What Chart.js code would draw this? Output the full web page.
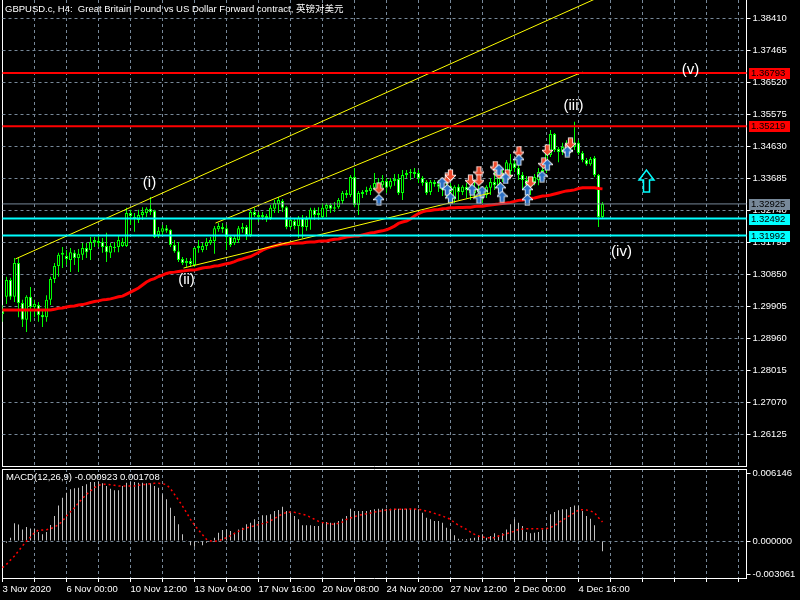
<!DOCTYPE html>
<html>
<head>
<meta charset="utf-8">
<script src="https://cdn.jsdelivr.net/npm/chart.js@4.4.1/dist/chart.umd.min.js"></script>
<style>
  html, body { margin: 0; padding: 0; background: #000; }
  #wrap { position: relative; width: 800px; height: 600px; background: #000; overflow: hidden; }
  #main { position: absolute; left: 0; top: 0; }
  #macd { position: absolute; left: 0; top: 467px; }
</style>
</head>
<body>
<div id="wrap">
  <canvas id="main" width="800" height="467"></canvas>
  <canvas id="macd" width="800" height="133"></canvas>
</div>
<script>
// ---- data ----
const priceTicks = [1.38410, 1.37465, 1.36520, 1.35575, 1.34630, 1.33685, 1.32740,
  1.31795, 1.30850, 1.29905, 1.28960, 1.28015, 1.27070, 1.26125];
const macdTicks = [0.006146, 0.0, -0.003061];

const timeTickIdx = [0, 16, 32, 48, 64, 80, 96, 112, 128, 144];
const timeTickText = ["3 Nov 2020", "6 Nov 00:00", "10 Nov 12:00", "13 Nov 04:00", "17 Nov 16:00",
  "20 Nov 08:00", "24 Nov 20:00", "27 Nov 12:00", "2 Dec 00:00", "4 Dec 16:00"];

const opens = [
  1.2979, 1.3018, 1.3068, 1.3018, 1.3118, 1.3000, 1.2950, 1.3018, 1.2988, 1.2994,
  1.2964, 1.2958, 1.3009, 1.3071, 1.3109, 1.3142, 1.3139, 1.3127, 1.3148, 1.3133,
  1.3142, 1.3162, 1.3156, 1.3180, 1.3183, 1.3180, 1.3168, 1.3148, 1.3165, 1.3165,
  1.3168, 1.3168, 1.3266, 1.3254, 1.3245, 1.3260, 1.3266, 1.3278, 1.3272, 1.3201,
  1.3210, 1.3221, 1.3216, 1.3171, 1.3153, 1.3130, 1.3118, 1.3124, 1.3112, 1.3162,
  1.3156, 1.3168, 1.3177, 1.3183, 1.3218, 1.3224, 1.3221, 1.3195, 1.3177, 1.3186,
  1.3218, 1.3224, 1.3201, 1.3269, 1.3260, 1.3254, 1.3257, 1.3251, 1.3278, 1.3292,
  1.3301, 1.3283, 1.3224, 1.3242, 1.3227, 1.3251, 1.3224, 1.3248, 1.3275, 1.3260,
  1.3254, 1.3278, 1.3289, 1.3278, 1.3283, 1.3301, 1.3325, 1.3319, 1.3372, 1.3289,
  1.3322, 1.3328, 1.3331, 1.3340, 1.3354, 1.3348, 1.3360, 1.3343, 1.3360, 1.3366,
  1.3325, 1.3378, 1.3384, 1.3387, 1.3384, 1.3369, 1.3357, 1.3328, 1.3357, 1.3351,
  1.3343, 1.3334, 1.3346, 1.3307, 1.3343, 1.3328, 1.3343, 1.3334, 1.3325, 1.3337,
  1.3328, 1.3319, 1.3340, 1.3357, 1.3348, 1.3369, 1.3384, 1.3390, 1.3413, 1.3399,
  1.3378, 1.3363, 1.3348, 1.3357, 1.3363, 1.3387, 1.3393, 1.3437, 1.3499, 1.3455,
  1.3446, 1.3461, 1.3470, 1.3461, 1.3473, 1.3443, 1.3422, 1.3410, 1.3428, 1.3378,
  1.3254];
const closes = [
  1.2967, 1.3068, 1.3018, 1.3118, 1.3000, 1.2950, 1.3018, 1.2988, 1.2997, 1.2964,
  1.2958, 1.3009, 1.3071, 1.3109, 1.3142, 1.3148, 1.3130, 1.3150, 1.3133, 1.3145,
  1.3162, 1.3150, 1.3180, 1.3186, 1.3177, 1.3165, 1.3150, 1.3168, 1.3162, 1.3186,
  1.3180, 1.3266, 1.3257, 1.3251, 1.3260, 1.3269, 1.3278, 1.3269, 1.3195, 1.3213,
  1.3221, 1.3213, 1.3171, 1.3153, 1.3127, 1.3118, 1.3124, 1.3115, 1.3162, 1.3168,
  1.3168, 1.3180, 1.3186, 1.3221, 1.3227, 1.3218, 1.3195, 1.3171, 1.3192, 1.3221,
  1.3224, 1.3201, 1.3269, 1.3260, 1.3254, 1.3260, 1.3251, 1.3281, 1.3295, 1.3304,
  1.3281, 1.3224, 1.3245, 1.3227, 1.3251, 1.3224, 1.3248, 1.3275, 1.3260, 1.3266,
  1.3281, 1.3289, 1.3278, 1.3283, 1.3304, 1.3325, 1.3319, 1.3372, 1.3289, 1.3325,
  1.3328, 1.3334, 1.3340, 1.3354, 1.3346, 1.3360, 1.3340, 1.3360, 1.3366, 1.3325,
  1.3378, 1.3384, 1.3387, 1.3381, 1.3369, 1.3354, 1.3325, 1.3357, 1.3351, 1.3343,
  1.3334, 1.3346, 1.3328, 1.3343, 1.3328, 1.3343, 1.3334, 1.3325, 1.3337, 1.3328,
  1.3319, 1.3343, 1.3357, 1.3348, 1.3369, 1.3384, 1.3416, 1.3413, 1.3399, 1.3378,
  1.3363, 1.3348, 1.3357, 1.3372, 1.3387, 1.3393, 1.3446, 1.3499, 1.3452, 1.3446,
  1.3461, 1.3470, 1.3461, 1.3473, 1.3443, 1.3422, 1.3410, 1.3425, 1.3378, 1.3254,
  1.32925];
const highs = [
  1.2994, 1.3077, 1.3074, 1.3133, 1.3133, 1.3009, 1.3023, 1.3047, 1.3009, 1.3003,
  1.2979, 1.3023, 1.3077, 1.3118, 1.3148, 1.3165, 1.3156, 1.3162, 1.3156, 1.3159,
  1.3177, 1.3177, 1.3195, 1.3195, 1.3201, 1.3192, 1.3207, 1.3177, 1.3180, 1.3201,
  1.3192, 1.3281, 1.3275, 1.3266, 1.3275, 1.3283, 1.3283, 1.3313, 1.3275, 1.3224,
  1.3230, 1.3230, 1.3218, 1.3186, 1.3180, 1.3136, 1.3133, 1.3133, 1.3165, 1.3186,
  1.3177, 1.3192, 1.3195, 1.3227, 1.3236, 1.3236, 1.3230, 1.3201, 1.3201, 1.3227,
  1.3236, 1.3230, 1.3275, 1.3281, 1.3269, 1.3269, 1.3263, 1.3289, 1.3304, 1.3313,
  1.3307, 1.3286, 1.3251, 1.3251, 1.3257, 1.3260, 1.3257, 1.3281, 1.3281, 1.3283,
  1.3295, 1.3295, 1.3295, 1.3298, 1.3310, 1.3331, 1.3334, 1.3378, 1.3399, 1.3331,
  1.3334, 1.3343, 1.3348, 1.3384, 1.3369, 1.3378, 1.3369, 1.3369, 1.3381, 1.3381,
  1.3393, 1.3393, 1.3396, 1.3399, 1.3393, 1.3375, 1.3363, 1.3363, 1.3363, 1.3363,
  1.3354, 1.3357, 1.3354, 1.3348, 1.3351, 1.3348, 1.3354, 1.3340, 1.3357, 1.3348,
  1.3340, 1.3348, 1.3369, 1.3387, 1.3393, 1.3399, 1.3422, 1.3440, 1.3422, 1.3408,
  1.3387, 1.3375, 1.3369, 1.3381, 1.3399, 1.3422, 1.3458, 1.3511, 1.3502, 1.3461,
  1.3473, 1.3481, 1.3487, 1.3535, 1.3481, 1.3449, 1.3428, 1.3431, 1.3434, 1.3381,
  1.3298];
const lows = [
  1.2944, 1.2997, 1.3009, 1.3003, 1.2958, 1.2929, 1.2914, 1.2944, 1.2958, 1.2944,
  1.2929, 1.2944, 1.2994, 1.3059, 1.3077, 1.3103, 1.3112, 1.3091, 1.3112, 1.3091,
  1.3127, 1.3133, 1.3127, 1.3165, 1.3165, 1.3148, 1.3121, 1.3133, 1.3150, 1.3150,
  1.3165, 1.3165, 1.3230, 1.3210, 1.3236, 1.3245, 1.3254, 1.3260, 1.3192, 1.3192,
  1.3201, 1.3207, 1.3165, 1.3148, 1.3121, 1.3112, 1.3106, 1.3106, 1.3106, 1.3148,
  1.3150, 1.3156, 1.3171, 1.3145, 1.3210, 1.3207, 1.3156, 1.3165, 1.3171, 1.3177,
  1.3207, 1.3186, 1.3195, 1.3254, 1.3239, 1.3245, 1.3239, 1.3245, 1.3266, 1.3266,
  1.3269, 1.3218, 1.3216, 1.3218, 1.3192, 1.3192, 1.3213, 1.3216, 1.3245, 1.3245,
  1.3248, 1.3254, 1.3266, 1.3269, 1.3278, 1.3292, 1.3310, 1.3313, 1.3283, 1.3260,
  1.3310, 1.3319, 1.3319, 1.3334, 1.3334, 1.3340, 1.3325, 1.3337, 1.3346, 1.3319,
  1.3304, 1.3369, 1.3363, 1.3369, 1.3354, 1.3346, 1.3319, 1.3319, 1.3343, 1.3328,
  1.3316, 1.3313, 1.3307, 1.3295, 1.3304, 1.3319, 1.3310, 1.3304, 1.3310, 1.3313,
  1.3295, 1.3310, 1.3319, 1.3334, 1.3340, 1.3357, 1.3375, 1.3378, 1.3387, 1.3363,
  1.3334, 1.3313, 1.3319, 1.3348, 1.3348, 1.3378, 1.3384, 1.3431, 1.3446, 1.3416,
  1.3437, 1.3452, 1.3452, 1.3452, 1.3437, 1.3416, 1.3405, 1.3405, 1.3372, 1.3224,
  1.3248];

// red moving average
const maPrices = [
  1.2979, 1.2979, 1.2979, 1.2979, 1.2979, 1.2979, 1.2979, 1.2979, 1.2979, 1.2979,
  1.2979, 1.2979, 1.2979, 1.2981, 1.2984, 1.2985, 1.2988, 1.2990, 1.2991, 1.2994,
  1.2995, 1.2998, 1.3001, 1.3004, 1.3006, 1.3009, 1.3010, 1.3012, 1.3015, 1.3018,
  1.3020, 1.3026, 1.3032, 1.3038, 1.3044, 1.3053, 1.3062, 1.3068, 1.3072, 1.3078,
  1.3082, 1.3087, 1.3090, 1.3091, 1.3093, 1.3094, 1.3096, 1.3097, 1.3097, 1.3100,
  1.3103, 1.3105, 1.3106, 1.3109, 1.3110, 1.3113, 1.3116, 1.3118, 1.3122, 1.3127,
  1.3130, 1.3134, 1.3137, 1.3143, 1.3149, 1.3156, 1.3161, 1.3165, 1.3168, 1.3171,
  1.3174, 1.3174, 1.3176, 1.3176, 1.3177, 1.3177, 1.3179, 1.3180, 1.3180, 1.3182,
  1.3183, 1.3183, 1.3186, 1.3188, 1.3189, 1.3192, 1.3195, 1.3196, 1.3198, 1.3198,
  1.3201, 1.3204, 1.3207, 1.3208, 1.3211, 1.3213, 1.3216, 1.3221, 1.3227, 1.3235,
  1.3239, 1.3242, 1.3248, 1.3257, 1.3264, 1.3269, 1.3272, 1.3273, 1.3275, 1.3276,
  1.3278, 1.3279, 1.3281, 1.3281, 1.3282, 1.3282, 1.3283, 1.3283, 1.3285, 1.3286,
  1.3286, 1.3288, 1.3289, 1.3291, 1.3292, 1.3294, 1.3295, 1.3297, 1.3300, 1.3303,
  1.3304, 1.3307, 1.3309, 1.3310, 1.3313, 1.3316, 1.3317, 1.3319, 1.3322, 1.3325,
  1.3328, 1.3331, 1.3332, 1.3334, 1.3338, 1.3340, 1.3340, 1.3340, 1.3340, 1.3338,
  1.3337];

// MACD(12,26,9) histogram and signal
const macdHist = [
  -0.0002, -0.00015, 0.0003, 0.0016, 0.0015, 0.00105, 0.00127, 0.00114, 0.00114, 0.00081,
  0.0006, 0.00081, 0.00145, 0.00226, 0.00322, 0.00392, 0.00437, 0.00467, 0.00476, 0.00482,
  0.00497, 0.00512, 0.00533, 0.00533, 0.00533, 0.00521, 0.00497, 0.00473, 0.00458, 0.00458,
  0.00497, 0.00527, 0.00533, 0.00533, 0.00527, 0.00527, 0.00521, 0.00521, 0.00497, 0.00482,
  0.00422, 0.00377, 0.00301, 0.00226, 0.00151, 0.0006, 0.00003, -0.00039, -0.00051, -0.00015,
  -0.00039, -0.00015, 0.00002, 0.0003, 0.00075, 0.00099, 0.00105, 0.0009, 0.00075, 0.00105,
  0.0012, 0.00151, 0.00166, 0.00196, 0.00181, 0.00232, 0.00232, 0.00241, 0.00271, 0.0028,
  0.0031, 0.00271, 0.00262, 0.00226, 0.00196, 0.00142, 0.00142, 0.00142, 0.00136, 0.00136,
  0.00172, 0.00172, 0.00166, 0.00166, 0.00181, 0.00202, 0.00226, 0.00292, 0.00271, 0.00271,
  0.00271, 0.00271, 0.0028, 0.00286, 0.00292, 0.00292, 0.00292, 0.00292, 0.00292, 0.00292,
  0.00292, 0.00292, 0.00292, 0.00292, 0.00286, 0.00256, 0.00211, 0.00196, 0.00181, 0.00181,
  0.00166, 0.0012, 0.00105, 0.00051, 0.00021, 0.00015, 0.00015, 0.00024, 0.0003, 0.00051,
  0.0006, 0.0003, 0.00045, 0.00069, 0.00051, 0.00069, 0.00105, 0.00151, 0.00196, 0.00166,
  0.00136, 0.00081, 0.00069, 0.00075, 0.00081, 0.00105, 0.0012, 0.00241, 0.00262, 0.00277,
  0.00286, 0.00286, 0.00307, 0.00322, 0.00316, 0.00271, 0.00226, 0.00202, 0.00142, -0.0001,
  -0.000923];
const macdSignal = [
  -0.00241, -0.00211, -0.00172, -0.00135, -0.0009, -0.00045, 0.0, 0.00036, 0.00075, 0.00099,
  0.00099, 0.00102, 0.00111, 0.00126, 0.00148, 0.00181, 0.00226, 0.00265, 0.00301, 0.00346,
  0.00385, 0.00421, 0.00452, 0.00482, 0.00503, 0.00512, 0.00512, 0.00509, 0.00503, 0.00497,
  0.00497, 0.00497, 0.00497, 0.00497, 0.00503, 0.00509, 0.00512, 0.00518, 0.00521, 0.00521,
  0.00518, 0.00509, 0.00473, 0.00421, 0.0037, 0.00316, 0.00256, 0.00196, 0.00144, 0.00099,
  0.00057, 0.00015, 0.0, -0.00003, 0.00003, 0.00015, 0.0003, 0.00048, 0.00069, 0.00087,
  0.00105, 0.00117, 0.00129, 0.00138, 0.00148, 0.00157, 0.00166, 0.00184, 0.00202, 0.00226,
  0.00244, 0.00259, 0.00262, 0.00259, 0.0025, 0.00241, 0.00232, 0.00214, 0.00196, 0.00178,
  0.00166, 0.0016, 0.00154, 0.00151, 0.0016, 0.00172, 0.00196, 0.00208, 0.0022, 0.00232,
  0.00238, 0.00247, 0.00253, 0.00262, 0.00268, 0.00274, 0.0028, 0.00283, 0.00286, 0.00286,
  0.00286, 0.00289, 0.00289, 0.00289, 0.00286, 0.0028, 0.00271, 0.00262, 0.0025, 0.00238,
  0.00226, 0.00211, 0.00196, 0.00166, 0.00142, 0.00124, 0.00105, 0.00081, 0.0006, 0.00045,
  0.00036, 0.0003, 0.0003, 0.0003, 0.00045, 0.00054, 0.00066, 0.00075, 0.0009, 0.00105,
  0.00108, 0.00111, 0.00111, 0.00111, 0.00111, 0.00111, 0.00111, 0.00124, 0.00136, 0.00166,
  0.0019, 0.00211, 0.00235, 0.00256, 0.0028, 0.00283, 0.0028, 0.00271, 0.00256, 0.00211,
  0.001708];

// horizontal levels (price lines) and bid
const levelPrices = [1.36793, 1.35219, 1.32925, 1.32492, 1.31992];

// trend lines: bar index / price at both ends
const trendFromIdx = [3.25, 53.25, 45.25];
const trendFromPrice = [1.3130, 1.3236, 1.3103];
const trendToIdx = [148.5, 145, 122];
const trendToPrice = [1.3900, 1.3682, 1.3325];

// signal arrows
const buyIdx = [94.1, 109.9, 111.2, 112, 117.4, 119.1, 119.9, 124.1, 124.5, 124.9, 125.8, 129.1, 131.2, 131.2, 134.9, 136.2, 141.2];
const buyPrice = [1.3304, 1.3354, 1.3334, 1.3309, 1.3334, 1.3309, 1.3329, 1.3393, 1.3339, 1.3314, 1.3368, 1.3422, 1.3334, 1.3304, 1.3373, 1.3408, 1.3447];
const sellIdx = [94.1, 111.2, 112, 117, 119.1, 119.1, 123.2, 124.1, 126.2, 129.1, 132, 135.3, 136.2, 141.2, 142];
const sellPrice = [1.3339, 1.3368, 1.3378, 1.3363, 1.3388, 1.3363, 1.3403, 1.3383, 1.3378, 1.3447, 1.3358, 1.3413, 1.3452, 1.3452, 1.3472];

// Elliott wave labels
const waveText = ["(i)", "(ii)", "(iii)", "(iv)", "(v)"];
const waveIdx = [36.75, 46, 142.75, 154.75, 172];
const wavePrice = [1.3354, 1.3068, 1.3582, 1.3151, 1.3688];
const hintIdx = 161;
const hintPrice = 1.3360;

const titleText = "GBPUSD.c, H4:  Great Britain Pound vs US Dollar Forward contract, 英镑对美元";
const macdText = "MACD(12,26,9) -0.000923 0.001708";

// ---- styles / layout ----
const SLOTS = 187;
const PRICE_MIN = 1.25181, PRICE_MAX = 1.38951;
const MACD_MIN = -0.003344, MACD_MAX = 0.006508;
const FONT = "'Liberation Sans', 'Noto Sans CJK SC', sans-serif";
const GRID = "#778899";
const levelColors = ["#ff0000", "#ff0000", "#778899", "#00ffff", "#00ffff"];
const levelWidths = [2, 2, 1, 2, 2];

Chart.defaults.font.family = FONT;
Chart.defaults.font.size = 9.5;
Chart.defaults.color = "#fff";

const timeLabels = Array.from({ length: SLOTS }, (_, j) => {
  const k = timeTickIdx.indexOf(j);
  return k >= 0 ? timeTickText[k] : "";
});

const arrowImg = (color, up) => {
  const c = document.createElement("canvas");
  c.width = 11; c.height = 12;
  const g = c.getContext("2d");
  g.translate(5.5, 6);
  if (!up) g.scale(1, -1);
  g.beginPath();
  g.moveTo(0, -5); g.lineTo(4.5, -0.5); g.lineTo(1.8, -0.5); g.lineTo(1.8, 4.8);
  g.lineTo(-1.8, 4.8); g.lineTo(-1.8, -0.5); g.lineTo(-4.5, -0.5); g.closePath();
  g.strokeStyle = "#fff"; g.lineWidth = 1.6; g.stroke();
  g.fillStyle = color; g.fill();
  return c;
};

const xGrid = {
  offset: false,
  color: (c) => (c.index === 0 ? "#fff" : GRID),
  lineWidth: (c) => (c.index % 8 === 0 ? 1 : 0),
};
const xBorder = { color: "#fff", dash: (c) => (c.index === 0 ? [] : [3, 3]) };

// keep the vertical axis from reserving room for its end labels
const noPad = (s) => { s.paddingTop = 0; s.paddingBottom = 0; };

const overlayPlugin = {
  id: "overlay",
  afterDatasetsDraw(chart) {
    const { ctx, chartArea, scales } = chart;
    const y = scales.y, xl = scales.xl;
    ctx.save();
    levelPrices.forEach((p, i) => {
      const py = y.getPixelForValue(p);
      ctx.strokeStyle = levelColors[i];
      ctx.lineWidth = levelWidths[i];
      ctx.beginPath();
      ctx.moveTo(chartArea.left, py);
      ctx.lineTo(chartArea.right, py);
      ctx.stroke();
    });
    ctx.fillStyle = "#fff";
    ctx.font = "15px " + FONT;
    ctx.textAlign = "center";
    ctx.textBaseline = "middle";
    waveText.forEach((t, i) => {
      ctx.fillText(t, xl.getPixelForValue(waveIdx[i]), y.getPixelForValue(wavePrice[i]));
    });
    const cx = xl.getPixelForValue(hintIdx), cy = y.getPixelForValue(hintPrice);
    ctx.strokeStyle = "#00ffff";
    ctx.lineWidth = 1.5;
    ctx.beginPath();
    ctx.moveTo(cx, cy - 11); ctx.lineTo(cx + 7.5, cy - 1); ctx.lineTo(cx + 3, cy - 1);
    ctx.lineTo(cx + 3, cy + 11); ctx.lineTo(cx - 3, cy + 11); ctx.lineTo(cx - 3, cy - 1);
    ctx.lineTo(cx - 7.5, cy - 1); ctx.closePath();
    ctx.stroke();
    ctx.restore();
  },
  afterDraw(chart) {
    const { ctx, scales } = chart;
    ctx.save();
    ctx.font = "9.5px " + FONT;
    ctx.textBaseline = "middle";
    ctx.textAlign = "left";
    ctx.fillStyle = "#fff";
    ctx.fillText(titleText, 5, 9);
    levelPrices.forEach((p, i) => {
      const py = Math.round(scales.y.getPixelForValue(p));
      ctx.fillStyle = levelColors[i];
      ctx.fillRect(749, py - 5, 41, 11);
      ctx.fillStyle = "#000";
      ctx.fillText(p.toFixed(5), 751, py + 0.5);
    });
    ctx.restore();
  },
};

const priceGraph = () => {
  let ctx = document.getElementById("main").getContext("2d");
  let myChart = new Chart(ctx, {
    type: "bar",
    data: {
      labels: timeLabels,
      datasets: [
        ...trendFromIdx.map((x0, i) => ({
          type: "line",
          xAxisID: "xl",
          data: [{ x: x0, y: trendFromPrice[i] }, { x: trendToIdx[i], y: trendToPrice[i] }],
          borderColor: "#ffff00",
          borderWidth: 1,
          pointRadius: 0,
          order: 0,
        })),
        {
          type: "scatter",
          xAxisID: "xl",
          data: buyIdx.map((x, i) => ({ x, y: buyPrice[i] })),
          pointStyle: arrowImg("#2a6fc4", true),
          pointRadius: 5,
          order: 0,
        },
        {
          type: "scatter",
          xAxisID: "xl",
          data: sellIdx.map((x, i) => ({ x, y: sellPrice[i] })),
          pointStyle: arrowImg("#ee4a2c", false),
          pointRadius: 5,
          order: 0,
        },
        {
          type: "line",
          data: maPrices,
          borderColor: "#ff0000",
          borderWidth: 3,
          pointRadius: 0,
          tension: 0,
          order: 1,
        },
        {
          data: opens.map((o, i) => [o, closes[i]]),
          backgroundColor: opens.map((o, i) => (closes[i] > o ? "#000" : "#fff")),
          borderColor: "#00ff00",
          borderWidth: 1,
          borderSkipped: false,
          barThickness: 3,
          grouped: false,
          inflateAmount: 0,
          order: 2,
        },
        {
          data: lows.map((l, i) => [l, highs[i]]),
          backgroundColor: "#00ff00",
          barThickness: 1,
          grouped: false,
          inflateAmount: 0,
          order: 3,
        },
      ],
    },
    options: {
      responsive: false,
      animation: false,
      devicePixelRatio: 1,
      events: [],
      layout: { autoPadding: false, padding: { left: 2.5, right: 0, top: 0, bottom: 1 } },
      plugins: { legend: { display: false }, tooltip: { enabled: false } },
      scales: {
        x: {
          type: "category",
          offset: false,
          grid: { ...xGrid, drawTicks: false },
          border: xBorder,
          ticks: { display: false },
          afterFit: (s) => { s.height = 0; },
        },
        xl: { type: "linear", display: false, offset: false, min: 0, max: SLOTS - 1 },
        y: {
          position: "right",
          min: PRICE_MIN,
          max: PRICE_MAX,
          afterBuildTicks: (s) => { s.ticks = priceTicks.map((v) => ({ value: v })); },
          afterFit: (s) => { s.width = 53.5; noPad(s); },
          grid: { color: GRID, tickColor: "#fff", tickLength: 4 },
          border: { color: "#fff", dash: [3, 3] },
          ticks: { color: "#fff", padding: 2, callback: (v) => v.toFixed(5) },
        },
      },
    },
    plugins: [overlayPlugin],
  });
};

priceGraph();

const macdGraph = () => {
  let ctx = document.getElementById("macd").getContext("2d");
  let myChart = new Chart(ctx, {
    type: "bar",
    data: {
      labels: timeLabels,
      datasets: [
        {
          type: "line",
          data: macdSignal,
          borderColor: "#ff0000",
          borderWidth: 1.5,
          borderDash: [2, 3],
          pointRadius: 0,
          order: 0,
        },
        {
          data: macdHist,
          backgroundColor: "#c0c0c0",
          barThickness: 1,
          inflateAmount: 0,
          order: 1,
        },
      ],
    },
    options: {
      responsive: false,
      animation: false,
      devicePixelRatio: 1,
      events: [],
      layout: { autoPadding: false, padding: { left: 2.5, right: 0, top: 0, bottom: 0 } },
      plugins: { legend: { display: false }, tooltip: { enabled: false } },
      scales: {
        x: {
          type: "category",
          offset: false,
          grid: { ...xGrid, tickColor: "#fff", tickLength: 4 },
          border: xBorder,
          ticks: { autoSkip: false, maxRotation: 0, align: "start", color: "#fff", padding: 2 },
          afterFit: (s) => { s.height = 22; s.paddingLeft = 0; s.paddingRight = 0; },
        },
        xt: {
          type: "category",
          position: "top",
          offset: false,
          grid: { display: false },
          ticks: { display: false },
          border: { color: "#fff" },
          afterFit: (s) => { s.height = 2; },
        },
        y: {
          position: "right",
          min: MACD_MIN,
          max: MACD_MAX,
          afterBuildTicks: (s) => { s.ticks = macdTicks.map((v) => ({ value: v })); },
          afterFit: (s) => { s.width = 53.5; noPad(s); },
          grid: {
            color: (c) => (c.tick && c.tick.value === 0 ? GRID : "rgba(0,0,0,0)"),
            tickColor: "#fff",
            tickLength: 4,
          },
          border: { color: "#fff", dash: [3, 3] },
          ticks: { color: "#fff", padding: 2, callback: (v) => v.toFixed(6) },
        },
      },
    },
    plugins: [{
      id: "macdLabel",
      afterDraw(chart) {
        const c = chart.ctx;
        c.save();
        c.font = "9.5px " + FONT;
        c.fillStyle = "#fff";
        c.textBaseline = "middle";
        c.fillText(macdText, 6, 10);
        c.restore();
      },
    }],
  });
};

macdGraph();
</script>
</body>
</html>
